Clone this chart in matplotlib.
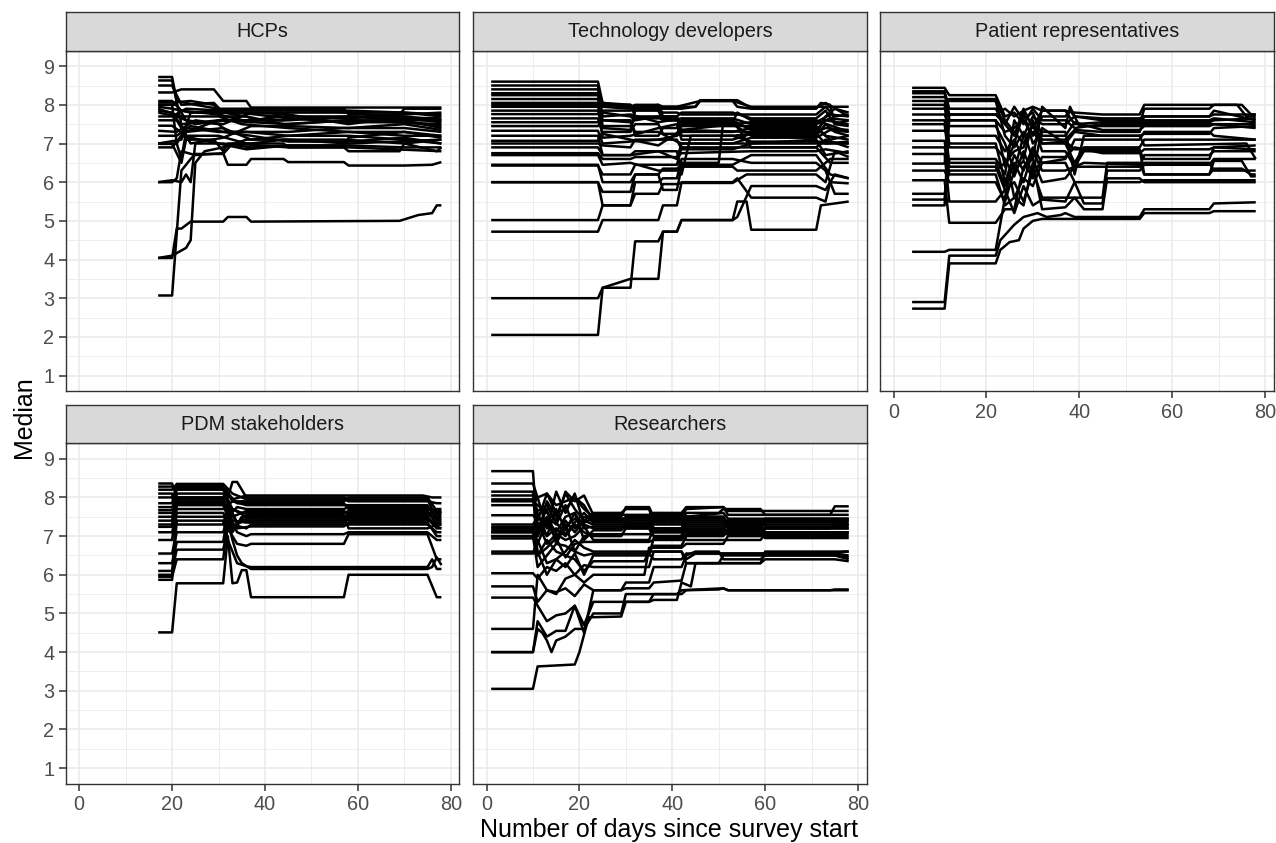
import matplotlib
matplotlib.use("Agg")
import matplotlib.pyplot as plt

plt.rcParams["font.family"] = ["Liberation Sans", "DejaVu Sans"]

# facet titles
panel_titles = ["HCPs", "Technology developers", "Patient representatives",
                "PDM stakeholders", "Researchers"]

# each line: (day, running median) pairs
hcps = [
    [(17, 8.72), (20, 8.72), (21, 8.1), (25, 8.0), (30, 7.9), (45, 7.9), (58, 7.8), (70, 7.8), (78, 7.7)],
    [(17, 8.63), (20, 8.63), (22, 7.5), (30, 7.6), (45, 7.5), (58, 7.6), (78, 7.5)],
    [(17, 8.32), (20, 8.32), (22, 8.4), (29, 8.4), (31, 8.1), (36, 8.1), (37, 7.93), (78, 7.93)],
    [(17, 8.06), (20, 8.06), (24, 8.1), (29, 8.0), (31, 7.7), (36, 7.7), (38, 7.6), (44, 7.6), (45, 7.9), (57, 7.9), (58, 7.75), (69, 7.75), (70, 7.9), (78, 7.9)],
    [(17, 8.0), (21, 8.0), (23, 7.6), (30, 7.5), (32, 7.3), (45, 7.3), (57, 7.4), (70, 7.4), (78, 7.3)],
    [(17, 7.95), (20, 7.9), (24, 7.8), (31, 7.8), (36, 7.7), (44, 7.5), (58, 7.6), (78, 7.6)],
    [(17, 7.9), (22, 7.7), (30, 7.7), (35, 7.5), (45, 7.4), (58, 7.3), (70, 7.3), (78, 7.2)],
    [(17, 7.85), (20, 7.8), (23, 7.3), (31, 7.4), (37, 7.1), (45, 7.2), (58, 7.2), (70, 7.1), (78, 7.0)],
    [(17, 7.8), (21, 7.7), (25, 7.5), (31, 7.6), (37, 7.6), (44, 7.7), (58, 7.7), (70, 7.6), (78, 7.4)],
    [(17, 7.46), (20, 7.46), (23, 7.2), (30, 7.2), (36, 7.0), (44, 7.0), (45, 6.9), (57, 6.9), (58, 6.8), (69, 6.8), (70, 7.0), (78, 7.1)],
    [(17, 7.33), (21, 7.3), (25, 7.6), (31, 7.5), (37, 7.8), (45, 7.75), (58, 7.5), (70, 7.7), (78, 7.6)],
    [(17, 6.99), (20, 6.99), (22, 6.5), (23, 7.1), (29, 7.1), (31, 6.8), (32, 7.0), (37, 7.0), (44, 7.1), (57, 7.1), (70, 7.0), (77, 6.8), (78, 6.9)],
    [(17, 7.0), (21, 7.0), (23, 7.4), (30, 7.3), (36, 7.3), (45, 7.2), (58, 7.3), (70, 7.2), (78, 7.2)],
    [(17, 6.0), (20, 6.0), (21, 6.1), (22, 6.8), (25, 6.7), (31, 6.75), (32, 6.45), (36, 6.45), (37, 6.6), (44, 6.6), (45, 6.52), (57, 6.52), (58, 6.43), (70, 6.43), (76, 6.45), (78, 6.52)],
    [(17, 4.04), (20, 4.04), (21, 4.8), (22, 4.8), (24, 4.98), (31, 4.98), (32, 5.1), (36, 5.1), (37, 4.98), (69, 5.0), (73, 5.15), (76, 5.2), (77, 5.4), (78, 5.4)],
    [(17, 3.07), (20, 3.07), (22, 6.3), (24, 6.6), (25, 6.73), (31, 6.73), (33, 7.0), (45, 6.9), (58, 6.9), (78, 6.8)],
    [(17, 4.04), (20, 4.1), (23, 4.3), (24, 4.5), (25, 6.5), (27, 6.8), (31, 6.9), (36, 7.1), (45, 7.1), (58, 7.0), (78, 7.1)],
    [(17, 6.0), (20, 6.05), (22, 6.0), (23, 6.2), (24, 6.0), (25, 7.0), (31, 7.0), (37, 6.9), (45, 6.95), (58, 6.95), (70, 6.9), (78, 6.9)],
    [(17, 8.0), (20, 8.0), (21, 7.0), (22, 6.6), (23, 7.3), (30, 7.6), (45, 7.6), (58, 7.7), (78, 7.65)],
    [(17, 7.0), (22, 7.1), (24, 7.8), (30, 7.85), (44, 7.85), (58, 7.85), (70, 7.8), (78, 7.75)],
    [(17, 7.7), (20, 7.7), (23, 7.9), (31, 7.85), (45, 7.65), (58, 7.55), (70, 7.55), (78, 7.45)],
    [(17, 7.6), (21, 7.6), (24, 7.0), (31, 7.15), (37, 7.45), (45, 7.45), (58, 7.4), (70, 7.5), (78, 7.35)],
    [(17, 8.1), (20, 8.1), (22, 7.85), (30, 7.75), (37, 7.55), (45, 7.8), (58, 7.8), (70, 7.65), (78, 7.55)],
    [(17, 7.2), (21, 7.2), (24, 7.45), (31, 7.3), (37, 7.2), (45, 7.05), (58, 7.05), (70, 7.15), (78, 7.0)],
    [(17, 8.5), (20, 8.5), (22, 8.0), (29, 8.05), (31, 7.8), (44, 7.8), (45, 7.65), (58, 7.65), (70, 7.75), (78, 7.8)],
    [(17, 6.9), (20, 6.9), (22, 7.2), (30, 7.0), (36, 6.85), (45, 6.95), (57, 6.95), (58, 7.15), (70, 7.3), (78, 7.15)],
]

tech_dev = [
    [(1, 2.05), (24, 2.05), (25, 3.27), (31, 3.27), (32, 4.47), (37, 4.47), (38, 4.72), (41, 4.72), (42, 5.02), (53, 5.02), (54, 5.5), (56, 5.5), (57, 4.77), (71, 4.77), (72, 5.4), (78, 5.5)],
    [(1, 3.0), (24, 3.0), (25, 3.27), (31, 3.5), (37, 3.5), (38, 4.72), (41, 4.72), (42, 5.02), (53, 5.02), (54, 5.1), (57, 5.9), (71, 5.9), (73, 5.8), (75, 6.2), (78, 6.1)],
    [(1, 4.72), (24, 4.72), (25, 5.02), (37, 5.02), (38, 5.4), (41, 5.4), (42, 6.0), (53, 6.0), (54, 6.1), (57, 5.6), (71, 5.6), (73, 5.5), (74, 6.0), (78, 5.97)],
    [(1, 5.02), (24, 5.02), (25, 5.4), (31, 5.4), (32, 5.7), (37, 5.7), (38, 5.95), (41, 5.95), (42, 5.98), (53, 5.98), (56, 6.2), (71, 6.2), (73, 6.0), (75, 6.8), (78, 6.65)],
    [(1, 6.0), (24, 6.0), (25, 5.4), (31, 5.4), (32, 6.0), (37, 6.0), (38, 6.1), (41, 6.1), (42, 6.6), (53, 6.6), (57, 6.5), (71, 6.5), (73, 6.3), (75, 5.7), (78, 5.7)],
    [(1, 6.0), (24, 6.0), (25, 5.75), (31, 5.75), (32, 6.2), (37, 6.2), (38, 5.8), (41, 5.8), (42, 6.4), (53, 6.4), (54, 6.3), (71, 6.3), (74, 6.6), (78, 6.6)],
    [(1, 6.43), (24, 6.43), (25, 6.2), (31, 6.2), (32, 6.45), (41, 6.45), (42, 6.9), (71, 6.9), (73, 7.1), (78, 6.9)],
    [(1, 6.7), (24, 6.7), (25, 6.45), (31, 6.5), (37, 6.3), (41, 6.3), (42, 6.5), (50, 6.5), (51, 7.6), (53, 7.6), (57, 6.9), (71, 6.9), (74, 6.5), (78, 6.5)],
    [(1, 7.0), (24, 7.0), (25, 6.95), (31, 6.9), (32, 7.1), (41, 7.1), (42, 6.85), (53, 6.85), (57, 7.0), (78, 7.0)],
    [(1, 7.07), (24, 7.07), (25, 7.3), (31, 7.3), (32, 7.5), (37, 7.5), (38, 7.25), (41, 7.25), (42, 7.5), (53, 7.5), (57, 7.2), (71, 7.2), (73, 7.5), (75, 7.3), (78, 7.2)],
    [(1, 6.9), (24, 6.9), (25, 6.7), (31, 6.7), (37, 6.8), (41, 6.6), (42, 7.0), (57, 7.0), (71, 7.1), (73, 6.7), (78, 6.8)],
    [(1, 7.33), (24, 7.33), (25, 7.0), (31, 7.05), (37, 7.1), (41, 7.2), (42, 7.3), (53, 7.3), (57, 7.4), (71, 7.4), (74, 7.1), (78, 7.2)],
    [(1, 7.45), (24, 7.45), (25, 7.6), (31, 7.6), (32, 7.2), (37, 7.2), (38, 7.4), (41, 7.4), (42, 7.6), (53, 7.6), (57, 7.35), (71, 7.35), (73, 7.6), (78, 7.5)],
    [(1, 7.55), (24, 7.55), (25, 7.8), (31, 7.7), (32, 7.6), (37, 7.7), (41, 7.7), (42, 7.8), (53, 7.8), (57, 7.65), (71, 7.65), (73, 7.85), (75, 7.5), (78, 7.45)],
    [(1, 7.76), (24, 7.76), (25, 7.85), (31, 7.85), (32, 7.9), (37, 7.9), (38, 7.8), (41, 7.8), (42, 7.75), (57, 7.75), (71, 7.75), (73, 7.95), (75, 7.7), (78, 7.75)],
    [(1, 7.85), (24, 7.85), (25, 7.4), (31, 7.35), (32, 7.85), (37, 7.85), (38, 7.6), (41, 7.6), (42, 7.55), (53, 7.55), (54, 7.8), (57, 7.6), (71, 7.6), (78, 7.3)],
    [(1, 7.95), (24, 7.95), (25, 8.0), (31, 7.95), (32, 8.0), (37, 8.0), (38, 7.95), (45, 7.95), (46, 8.1), (53, 8.1), (54, 7.95), (57, 7.9), (71, 7.9), (72, 8.05), (74, 8.0), (75, 7.5), (78, 7.6)],
    [(1, 8.05), (24, 8.05), (25, 8.05), (31, 7.95), (37, 7.9), (42, 7.9), (45, 7.95), (46, 8.12), (54, 8.12), (57, 7.92), (71, 7.92), (73, 8.05), (78, 7.7)],
    [(1, 8.15), (24, 8.15), (25, 7.6), (31, 7.55), (32, 7.3), (37, 7.3), (41, 7.05), (42, 7.0), (53, 7.0), (57, 7.15), (71, 7.15), (74, 7.35), (78, 7.3)],
    [(1, 8.25), (24, 8.25), (25, 8.0), (31, 8.0), (32, 7.7), (37, 7.7), (38, 7.6), (41, 7.6), (42, 7.45), (57, 7.45), (71, 7.45), (73, 7.2), (78, 7.1)],
    [(1, 8.4), (24, 8.4), (25, 7.95), (31, 7.9), (37, 8.0), (38, 7.7), (41, 7.7), (42, 7.2), (53, 7.2), (57, 7.25), (71, 7.25), (73, 7.7), (75, 7.9), (78, 7.8)],
    [(1, 8.6), (24, 8.6), (25, 8.05), (31, 8.0), (32, 7.9), (37, 7.95), (41, 7.95), (46, 8.1), (53, 8.1), (57, 7.95), (78, 7.95)],
    [(1, 7.2), (24, 7.2), (25, 6.7), (31, 6.7), (32, 6.8), (41, 6.8), (42, 6.2), (44, 7.2), (53, 7.2), (57, 7.05), (71, 7.05), (78, 7.0)],
    [(1, 6.45), (24, 6.45), (25, 6.0), (31, 6.0), (32, 6.2), (37, 6.2), (38, 6.35), (41, 6.35), (42, 6.45), (53, 6.45), (57, 6.7), (71, 6.7), (74, 6.2), (78, 6.1)],
    [(1, 8.5), (24, 8.5), (25, 7.7), (31, 7.75), (37, 7.55), (42, 7.65), (53, 7.65), (57, 7.5), (71, 7.5), (74, 7.65), (78, 7.6)],
    [(1, 8.3), (24, 8.3), (25, 7.45), (31, 7.45), (32, 7.65), (41, 7.65), (42, 7.35), (57, 7.3), (71, 7.3), (73, 7.4), (78, 7.35)],
    [(1, 8.0), (24, 8.0), (25, 7.15), (31, 7.2), (37, 7.4), (41, 7.5), (42, 7.1), (53, 7.1), (57, 7.25), (71, 7.25), (73, 7.0), (78, 7.05)],
    [(1, 7.65), (24, 7.65), (25, 7.25), (31, 7.1), (37, 6.95), (42, 7.35), (57, 7.55), (71, 7.55), (74, 7.75), (78, 7.7)],
    [(1, 6.75), (24, 6.75), (25, 6.6), (31, 6.6), (32, 6.65), (41, 6.65), (42, 6.75), (57, 6.8), (71, 6.8), (73, 6.85), (78, 6.75)],
]

patient_reps = [
    [(4, 2.73), (11, 2.73), (12, 3.9), (22, 3.9), (23, 4.25), (25, 4.45), (27, 4.5), (28, 4.8), (30, 5.0), (32, 5.05), (53, 5.05), (54, 5.2), (68, 5.2), (69, 5.25), (78, 5.25)],
    [(4, 2.9), (11, 2.9), (12, 4.1), (22, 4.1), (23, 4.5), (26, 4.9), (28, 5.1), (31, 5.2), (33, 5.1), (36, 5.15), (37, 5.2), (39, 5.1), (53, 5.1), (54, 5.3), (68, 5.3), (69, 5.45), (78, 5.48)],
    [(4, 4.2), (11, 4.2), (12, 4.25), (22, 4.25), (24, 5.6), (25, 6.2), (26, 5.6), (28, 5.4), (30, 6.5), (32, 5.3), (37, 5.35), (39, 5.6), (41, 5.3), (45, 5.3), (46, 6.1), (53, 6.1), (54, 6.0), (78, 6.0)],
    [(4, 8.44), (11, 8.44), (12, 8.25), (22, 8.25), (24, 7.7), (26, 7.8), (28, 7.5), (30, 7.9), (32, 7.6), (37, 7.6), (39, 7.4), (45, 7.5), (53, 7.5), (54, 7.9), (68, 7.9), (69, 8.0), (74, 8.0), (76, 7.7), (78, 7.7)],
    [(4, 8.35), (11, 8.35), (12, 7.9), (22, 7.9), (24, 7.5), (26, 7.95), (28, 7.6), (30, 7.2), (32, 7.7), (37, 7.7), (38, 7.85), (39, 7.7), (45, 7.6), (53, 7.6), (54, 7.55), (68, 7.55), (69, 7.6), (78, 7.65)],
    [(4, 8.2), (11, 8.2), (12, 8.1), (22, 8.1), (24, 7.2), (26, 6.9), (28, 7.3), (30, 6.6), (32, 7.95), (37, 7.4), (38, 7.95), (40, 7.45), (53, 7.45), (54, 7.7), (68, 7.7), (69, 7.75), (78, 7.75)],
    [(4, 8.1), (11, 8.1), (12, 7.6), (22, 7.6), (24, 6.4), (26, 7.0), (28, 7.8), (30, 7.0), (32, 7.3), (37, 7.3), (39, 6.2), (41, 7.2), (53, 7.2), (54, 7.25), (68, 7.25), (69, 7.4), (78, 7.45)],
    [(4, 8.0), (11, 8.0), (12, 7.0), (22, 7.0), (24, 6.0), (26, 6.7), (28, 6.3), (30, 6.9), (32, 6.5), (37, 6.6), (39, 7.1), (53, 7.1), (54, 7.3), (68, 7.3), (69, 7.2), (78, 7.1)],
    [(4, 7.9), (11, 7.9), (12, 8.15), (22, 8.15), (24, 7.6), (26, 7.3), (28, 7.0), (30, 7.5), (32, 6.8), (37, 6.8), (39, 6.4), (41, 6.8), (53, 6.8), (54, 6.6), (68, 6.6), (69, 6.9), (78, 6.85)],
    [(4, 7.75), (11, 7.75), (12, 7.45), (22, 7.45), (24, 7.0), (26, 6.3), (28, 7.2), (30, 7.3), (32, 7.0), (37, 7.0), (39, 7.3), (45, 7.2), (53, 7.2), (54, 6.95), (76, 7.0), (78, 6.6)],
    [(4, 7.6), (11, 7.6), (12, 6.9), (22, 6.9), (24, 6.6), (26, 6.15), (28, 6.8), (30, 6.2), (32, 7.4), (37, 7.0), (39, 6.5), (41, 6.9), (53, 6.9), (54, 7.1), (78, 7.1)],
    [(4, 7.5), (11, 7.5), (12, 6.5), (22, 6.5), (24, 5.9), (26, 6.5), (28, 6.0), (30, 6.8), (32, 6.3), (37, 6.3), (41, 6.5), (53, 6.45), (54, 6.5), (68, 6.5), (69, 6.3), (78, 6.3)],
    [(4, 7.33), (11, 7.33), (12, 7.2), (22, 7.2), (24, 6.8), (26, 7.1), (28, 6.6), (30, 7.6), (32, 7.0), (37, 7.05), (39, 6.85), (53, 6.85), (54, 6.2), (68, 6.2), (69, 6.55), (75, 6.55), (77, 6.15), (78, 6.15)],
    [(4, 7.07), (11, 7.07), (12, 6.2), (22, 6.2), (24, 5.4), (26, 5.6), (28, 6.1), (30, 5.9), (32, 6.5), (37, 6.5), (39, 6.0), (53, 6.0), (54, 6.05), (78, 6.05)],
    [(4, 6.9), (11, 6.9), (12, 6.4), (22, 6.4), (24, 5.8), (26, 6.0), (28, 5.5), (30, 6.3), (32, 5.6), (45, 5.6), (46, 6.5), (53, 6.5), (54, 6.2), (68, 6.2), (69, 6.35), (75, 6.35), (77, 6.2), (78, 6.2)],
    [(4, 6.73), (11, 6.73), (12, 5.5), (22, 5.5), (24, 5.8), (26, 5.2), (28, 5.9), (30, 5.4), (32, 5.55), (37, 5.5), (39, 6.0), (41, 5.45), (45, 5.45), (46, 6.3), (53, 6.3), (54, 6.45), (68, 6.45), (69, 6.6), (78, 6.6)],
    [(4, 6.48), (11, 6.48), (12, 7.6), (22, 7.6), (24, 7.3), (26, 7.4), (28, 7.65), (30, 7.8), (32, 7.2), (37, 7.2), (39, 7.55), (45, 7.35), (53, 7.35), (54, 7.45), (68, 7.45), (69, 7.5), (78, 7.4)],
    [(4, 6.3), (11, 6.3), (12, 6.0), (22, 6.0), (24, 5.5), (26, 6.3), (28, 6.55), (30, 6.1), (32, 6.65), (37, 6.65), (39, 6.9), (45, 6.75), (53, 6.75), (54, 6.85), (68, 6.85), (69, 6.9), (78, 6.95)],
    [(4, 6.05), (11, 6.05), (12, 4.95), (22, 4.95), (24, 5.3), (26, 5.3), (28, 6.4), (30, 6.6), (32, 6.0), (37, 6.1), (39, 6.4), (53, 6.4), (54, 6.7), (68, 6.7), (69, 6.8), (78, 6.8)],
    [(4, 5.7), (11, 5.7), (12, 6.3), (22, 6.3), (24, 6.5), (26, 6.8), (28, 6.9), (30, 7.5), (32, 7.1), (37, 7.1), (39, 7.35), (45, 7.3), (53, 7.3), (54, 7.6), (68, 7.6), (69, 7.65), (78, 7.55)],
    [(4, 5.55), (11, 5.55), (12, 6.6), (22, 6.6), (24, 6.2), (26, 7.6), (28, 7.2), (30, 7.7), (32, 7.5), (37, 7.5), (39, 7.7), (45, 7.65), (53, 7.65), (54, 7.7), (68, 7.7), (69, 7.85), (78, 7.6)],
    [(4, 5.4), (11, 5.4), (12, 7.75), (22, 7.75), (24, 7.5), (26, 7.2), (28, 7.9), (30, 7.4), (32, 7.85), (37, 7.85), (39, 7.5), (45, 7.55), (53, 7.55), (54, 7.5), (78, 7.5)],
    [(4, 8.3), (11, 8.3), (12, 7.75), (22, 7.75), (24, 7.9), (26, 7.7), (28, 7.85), (30, 7.95), (32, 7.85), (37, 7.85), (39, 7.8), (45, 7.75), (53, 7.75), (54, 8.0), (75, 8.0), (77, 7.75), (78, 7.75)],
]

pdm_stakeholders = [
    [(17, 4.51), (20, 4.51), (21, 5.78), (31, 5.78), (32, 7.0), (33, 5.78), (34, 5.8), (35, 6.12), (36, 6.12), (37, 5.42), (57, 5.42), (58, 6.0), (75, 6.0), (77, 5.42), (78, 5.42)],
    [(17, 5.87), (20, 5.87), (21, 7.4), (31, 7.4), (32, 6.9), (34, 6.3), (36, 6.22), (37, 6.2), (75, 6.2), (76, 6.4), (77, 6.15), (78, 6.15)],
    [(17, 5.95), (20, 5.95), (21, 6.4), (31, 6.4), (32, 7.4), (33, 6.9), (34, 6.5), (35, 6.3), (37, 6.15), (75, 6.15), (76, 6.2), (77, 6.45), (78, 6.25)],
    [(17, 6.1), (20, 6.1), (21, 6.65), (31, 6.65), (32, 7.2), (34, 6.8), (36, 6.75), (37, 6.8), (57, 6.8), (58, 7.05), (75, 7.05), (77, 6.4), (78, 6.4)],
    [(17, 6.3), (20, 6.3), (21, 6.85), (31, 6.85), (32, 7.6), (34, 7.1), (36, 7.0), (37, 7.05), (57, 7.05), (58, 7.1), (75, 7.1), (77, 6.9), (78, 6.9)],
    [(17, 6.55), (20, 6.55), (21, 7.1), (31, 7.1), (32, 7.5), (34, 7.2), (37, 7.25), (57, 7.25), (58, 7.35), (75, 7.35), (77, 7.0), (78, 7.0)],
    [(17, 6.9), (20, 6.9), (21, 7.9), (31, 7.9), (33, 7.3), (36, 7.2), (37, 7.3), (75, 7.3), (77, 7.1), (78, 7.1)],
    [(17, 7.24), (20, 7.24), (21, 8.1), (31, 8.1), (33, 7.6), (34, 7.35), (37, 7.4), (57, 7.4), (58, 7.5), (75, 7.5), (77, 7.25), (78, 7.2)],
    [(17, 7.4), (20, 7.4), (21, 8.25), (31, 8.25), (32, 8.0), (33, 8.4), (34, 8.4), (36, 8.0), (57, 8.0), (58, 7.95), (75, 7.95), (76, 7.7), (78, 7.6)],
    [(17, 7.5), (20, 7.5), (21, 7.7), (31, 7.7), (33, 7.9), (36, 7.8), (75, 7.8), (77, 7.4), (78, 7.4)],
    [(17, 7.6), (20, 7.6), (21, 7.5), (31, 7.5), (33, 7.7), (35, 7.6), (57, 7.6), (58, 7.65), (75, 7.65), (77, 7.3), (78, 7.3)],
    [(17, 7.67), (20, 7.67), (21, 8.0), (31, 8.0), (32, 7.5), (34, 7.75), (36, 7.7), (57, 7.7), (58, 7.75), (75, 7.75), (77, 7.5), (78, 7.5)],
    [(17, 7.85), (20, 7.85), (21, 8.3), (31, 8.3), (33, 7.95), (36, 8.05), (74, 8.05), (76, 8.0), (78, 8.0)],
    [(17, 8.0), (20, 8.0), (21, 8.2), (31, 8.2), (33, 7.7), (36, 7.5), (57, 7.5), (58, 7.55), (75, 7.55), (77, 7.7), (78, 7.7)],
    [(17, 8.1), (20, 8.1), (21, 7.3), (31, 7.3), (32, 7.8), (34, 7.3), (36, 7.45), (57, 7.45), (58, 7.6), (75, 7.6), (77, 7.55), (78, 7.55)],
    [(17, 8.2), (20, 8.2), (21, 8.35), (31, 8.35), (33, 8.1), (36, 7.95), (57, 7.95), (58, 7.9), (75, 7.9), (77, 7.85), (78, 7.85)],
    [(17, 8.36), (20, 8.36), (21, 8.0), (31, 8.0), (32, 8.1), (34, 7.85), (57, 7.85), (58, 7.7), (75, 7.7), (77, 7.6), (78, 7.6)],
    [(17, 7.1), (20, 7.1), (21, 7.6), (31, 7.6), (33, 7.1), (35, 7.5), (57, 7.5), (58, 7.2), (75, 7.2), (77, 7.3), (78, 7.3)],
    [(17, 7.75), (20, 7.75), (21, 7.95), (31, 7.95), (33, 7.5), (36, 7.65), (57, 7.65), (58, 7.55), (75, 7.55), (77, 7.45), (78, 7.45)],
    [(17, 7.3), (20, 7.3), (21, 7.85), (31, 7.85), (33, 7.4), (36, 7.35), (57, 7.35), (58, 7.45), (75, 7.45), (77, 7.2), (78, 7.2)],
    [(17, 6.0), (20, 6.0), (21, 7.8), (31, 7.8), (33, 7.2), (36, 7.55), (57, 7.55), (58, 7.4), (75, 7.4), (77, 7.35), (78, 7.35)],
    [(17, 8.28), (20, 8.28), (31, 8.28), (33, 7.9), (57, 7.9), (58, 8.0), (75, 8.0), (77, 7.65), (78, 7.65)],
]

researchers = [
    [(1, 3.05), (10, 3.05), (11, 3.63), (19, 3.68), (20, 4.0), (22, 4.9), (29, 4.92), (30, 5.3), (35, 5.3), (36, 5.5), (42, 5.5), (43, 5.6), (50, 5.62), (51, 5.65), (52, 5.6), (78, 5.6)],
    [(1, 4.0), (10, 4.0), (11, 4.6), (12, 4.5), (13, 4.3), (14, 4.0), (15, 4.3), (17, 4.4), (19, 4.6), (21, 4.6), (23, 5.0), (29, 5.0), (30, 5.5), (41, 5.5), (42, 5.6), (51, 5.65), (52, 5.6), (74, 5.6), (75, 5.62), (78, 5.62)],
    [(1, 4.0), (10, 4.0), (11, 4.8), (13, 4.4), (15, 4.55), (17, 4.55), (19, 5.2), (21, 4.5), (23, 5.6), (29, 5.6), (30, 5.8), (35, 5.8), (36, 6.2), (42, 6.2), (43, 6.5), (45, 6.6), (50, 6.6), (51, 6.4), (59, 6.4), (60, 6.5), (75, 6.5), (78, 6.4)],
    [(1, 4.6), (10, 4.6), (11, 6.0), (13, 5.6), (15, 5.5), (17, 5.9), (19, 6.0), (21, 5.8), (23, 6.0), (34, 6.0), (35, 6.7), (42, 6.7), (43, 6.8), (51, 6.8), (52, 7.0), (59, 7.0), (60, 7.2), (78, 7.2)],
    [(1, 5.41), (10, 5.41), (11, 5.2), (13, 4.8), (15, 4.95), (17, 5.0), (19, 5.2), (21, 4.7), (23, 5.3), (35, 5.3), (36, 5.35), (41, 5.35), (42, 5.8), (44, 5.7), (45, 6.3), (50, 6.3), (51, 6.5), (75, 6.5), (78, 6.45)],
    [(1, 5.7), (10, 5.7), (11, 5.3), (13, 5.6), (15, 5.55), (17, 5.65), (19, 5.45), (21, 5.75), (23, 5.6), (29, 5.6), (30, 5.65), (35, 5.65), (36, 5.8), (42, 5.85), (43, 6.3), (59, 6.3), (60, 6.4), (75, 6.4), (78, 6.35)],
    [(1, 6.04), (10, 6.04), (11, 5.9), (13, 6.2), (15, 6.1), (17, 6.3), (19, 6.0), (21, 6.25), (23, 6.2), (35, 6.2), (36, 6.6), (42, 6.6), (43, 6.4), (45, 6.55), (75, 6.55), (77, 6.6), (78, 6.6)],
    [(1, 6.55), (10, 6.55), (11, 6.9), (13, 6.3), (15, 6.4), (17, 6.6), (19, 6.9), (21, 6.7), (23, 6.6), (35, 6.6), (36, 6.75), (42, 6.75), (43, 7.0), (51, 7.0), (52, 7.2), (74, 7.2), (75, 7.3), (78, 7.3)],
    [(1, 6.94), (10, 6.94), (11, 7.3), (13, 7.0), (15, 7.2), (17, 7.0), (19, 7.3), (21, 7.1), (23, 7.0), (29, 7.0), (30, 7.2), (35, 7.2), (36, 7.0), (42, 7.0), (43, 7.3), (59, 7.3), (60, 7.1), (78, 7.1)],
    [(1, 7.0), (10, 7.0), (11, 6.8), (13, 7.4), (15, 6.9), (17, 7.4), (19, 7.1), (21, 7.4), (23, 7.3), (35, 7.3), (36, 7.45), (42, 7.45), (43, 7.1), (51, 7.1), (52, 7.4), (78, 7.4)],
    [(1, 7.1), (10, 7.1), (11, 7.6), (13, 7.0), (15, 7.7), (17, 7.15), (19, 7.6), (21, 6.9), (23, 7.15), (29, 7.15), (30, 7.3), (35, 7.3), (36, 7.4), (42, 7.4), (43, 7.25), (59, 7.25), (60, 7.0), (78, 7.0)],
    [(1, 7.2), (10, 7.2), (11, 7.1), (13, 7.5), (15, 7.3), (17, 7.8), (19, 7.2), (21, 7.5), (23, 7.4), (29, 7.4), (30, 7.5), (35, 7.5), (36, 7.2), (42, 7.2), (43, 7.5), (51, 7.5), (52, 7.3), (78, 7.3)],
    [(1, 7.24), (10, 7.24), (11, 7.0), (13, 7.9), (15, 7.5), (17, 8.1), (19, 7.7), (21, 7.4), (23, 7.6), (29, 7.6), (30, 7.7), (35, 7.7), (36, 7.35), (42, 7.35), (43, 7.6), (50, 7.6), (51, 7.7), (59, 7.7), (60, 7.55), (78, 7.55)],
    [(1, 7.54), (10, 7.54), (11, 7.4), (13, 8.1), (15, 7.8), (17, 7.9), (19, 8.0), (21, 7.7), (23, 7.5), (29, 7.5), (30, 7.75), (35, 7.75), (36, 7.5), (42, 7.5), (43, 7.7), (51, 7.75), (52, 7.55), (74, 7.55), (75, 7.77), (78, 7.77)],
    [(1, 7.8), (10, 7.8), (11, 8.0), (13, 7.2), (15, 8.15), (17, 7.6), (19, 8.1), (21, 7.3), (23, 7.2), (35, 7.2), (36, 7.0), (42, 7.0), (43, 7.5), (51, 7.5), (52, 7.2), (59, 7.2), (60, 7.4), (78, 7.4)],
    [(1, 7.9), (10, 7.9), (11, 7.8), (13, 7.6), (15, 7.4), (17, 8.15), (19, 7.9), (21, 8.05), (23, 7.55), (35, 7.55), (36, 7.6), (42, 7.6), (43, 7.75), (51, 7.75), (52, 7.65), (78, 7.65)],
    [(1, 8.05), (10, 8.05), (11, 7.2), (13, 7.7), (15, 6.8), (17, 7.3), (19, 6.6), (21, 7.0), (23, 7.05), (35, 7.05), (36, 7.1), (42, 7.1), (43, 6.9), (59, 6.9), (60, 7.05), (78, 7.05)],
    [(1, 8.15), (10, 8.15), (11, 6.5), (13, 6.9), (15, 6.6), (17, 6.5), (19, 6.4), (21, 6.1), (23, 6.35), (34, 6.35), (35, 6.6), (42, 6.6), (43, 6.3), (59, 6.3), (60, 6.6), (78, 6.6)],
    [(1, 8.36), (10, 8.36), (11, 8.0), (13, 8.1), (15, 7.6), (17, 7.7), (19, 8.0), (21, 7.8), (23, 7.4), (35, 7.4), (36, 7.3), (42, 7.3), (43, 7.5), (51, 7.6), (52, 7.45), (78, 7.45)],
    [(1, 8.68), (10, 8.68), (11, 7.0), (13, 7.45), (15, 7.1), (17, 7.5), (19, 7.6), (21, 7.2), (23, 7.25), (35, 7.25), (36, 7.15), (42, 7.15), (43, 7.35), (59, 7.35), (60, 7.25), (78, 7.25)],
    [(1, 7.0), (10, 7.0), (11, 6.2), (13, 6.5), (15, 6.8), (17, 6.75), (19, 6.6), (21, 6.5), (23, 6.55), (35, 6.55), (36, 6.4), (42, 6.4), (43, 6.55), (75, 6.55), (78, 6.5)],
    [(1, 7.1), (10, 7.1), (11, 6.6), (13, 6.0), (15, 6.4), (17, 6.2), (19, 6.55), (21, 6.0), (23, 6.5), (35, 6.5), (36, 6.95), (42, 6.95), (43, 7.2), (51, 7.2), (52, 7.1), (78, 7.1)],
    [(1, 7.3), (10, 7.3), (11, 7.5), (13, 7.3), (15, 7.0), (17, 7.25), (19, 7.45), (21, 7.35), (23, 7.45), (35, 7.45), (36, 7.55), (42, 7.55), (43, 7.4), (59, 7.4), (60, 7.45), (78, 7.45)],
    [(1, 7.15), (10, 7.15), (11, 7.35), (13, 6.8), (15, 7.05), (17, 6.9), (19, 7.0), (21, 7.25), (23, 6.9), (35, 6.9), (36, 7.2), (42, 7.2), (43, 7.15), (59, 7.15), (60, 7.2), (78, 7.2)],
    [(1, 7.95), (10, 7.95), (11, 7.65), (13, 7.8), (15, 7.35), (17, 7.05), (19, 7.35), (21, 7.6), (23, 7.35), (35, 7.35), (36, 7.1), (42, 7.1), (43, 7.45), (51, 7.45), (52, 7.35), (78, 7.35)],
    [(1, 6.6), (10, 6.6), (11, 6.5), (13, 6.7), (15, 6.95), (17, 6.45), (19, 6.8), (21, 6.85), (23, 6.85), (35, 6.85), (36, 6.9), (42, 6.9), (43, 7.05), (59, 7.05), (60, 6.95), (78, 6.95)],
]

panel_lines = [hcps, tech_dev, patient_reps, pdm_stakeholders, researchers]
x_ticks = [0, 20, 40, 60, 80]
y_ticks = [1, 2, 3, 4, 5, 6, 7, 8, 9]

W, H = 1276, 843
fig = plt.figure(figsize=(W / 100, H / 100), dpi=100)


def px_rect(left, top, w, h):
    return [left / W, 1 - (top + h) / H, w / W, h / H]


col_left = [66, 473.3, 880.3]
row_top = [50.7, 443.3]
panel_w, panel_h = 393.3, 340.3
strip_h = 38.5
grid_col = "#EBEBEB"
frame_col = "#333333"

for i, lines in enumerate(panel_lines):
    r, c = divmod(i, 3)
    ax = fig.add_axes(px_rect(col_left[c], row_top[r], panel_w, panel_h))
    for line in lines:
        xs, ys = zip(*line)
        ax.plot(xs, ys, color="black", lw=1.8, solid_joinstyle="round", solid_capstyle="butt")
    ax.set_xlim(-2.85, 81.85)
    ax.set_ylim(0.6, 9.4)
    ax.set_xticks(x_ticks)
    ax.set_yticks(y_ticks)
    ax.set_xticks([10, 30, 50, 70], minor=True)
    ax.set_yticks([y + 0.5 for y in y_ticks[:-1]], minor=True)
    ax.grid(which="major", color=grid_col, lw=1.2)
    ax.grid(which="minor", color=grid_col, lw=0.6)
    ax.set_axisbelow(True)
    for s in ax.spines.values():
        s.set_color(frame_col)
        s.set_linewidth(1.0)
    show_x = i >= 2
    show_y = c == 0
    ax.tick_params(which="minor", length=0)
    ax.tick_params(which="major", length=5, width=1.1, color=frame_col,
                   labelsize=14.3, labelcolor="#4D4D4D",
                   bottom=show_x, labelbottom=show_x,
                   left=show_y, labelleft=show_y, pad=3.5)

    # facet strip
    sx = fig.add_axes(px_rect(col_left[c], row_top[r] - strip_h, panel_w, strip_h))
    sx.set_facecolor("#D9D9D9")
    sx.set_xticks([])
    sx.set_yticks([])
    for s in sx.spines.values():
        s.set_color(frame_col)
        s.set_linewidth(1.0)
    sx.text(0.5, 0.5, panel_titles[i], ha="center", va="center",
            fontsize=14.3, color="#1A1A1A", transform=sx.transAxes)

fig.text(669 / W, 1 - 830 / H, "Number of days since survey start",
         ha="center", va="center", fontsize=18)
fig.text(24 / W, 1 - 417 / H, "Median", rotation=90,
         ha="center", va="center", fontsize=18)

fig.savefig("out.png", dpi=100)
